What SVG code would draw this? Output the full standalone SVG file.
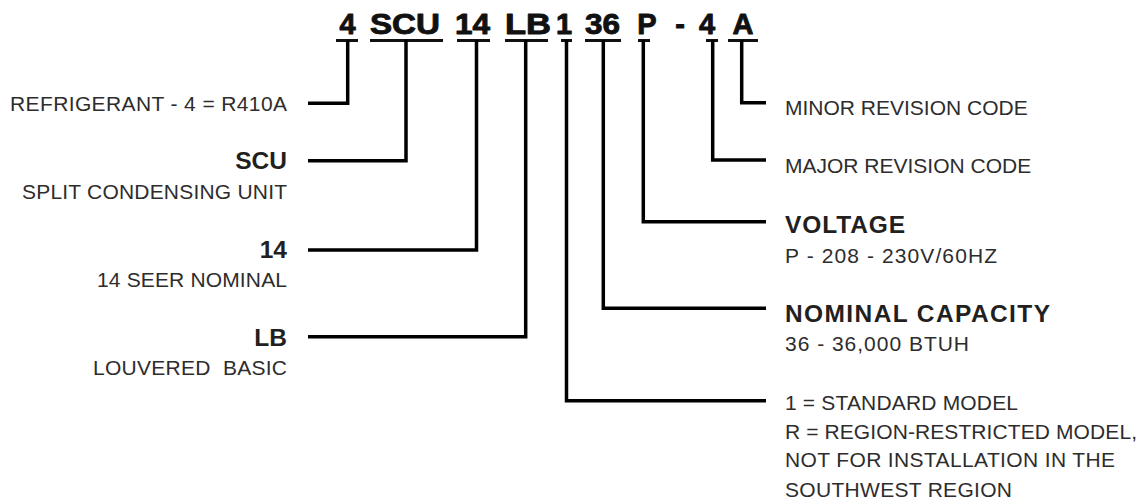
<svg xmlns="http://www.w3.org/2000/svg" width="1144" height="501" viewBox="0 0 1144 501">
<style>
  .title { font-family: "Liberation Sans", Arial, sans-serif; font-weight: bold; font-size: 29px; fill: #111; stroke: #111; stroke-width: 0.9; stroke-linejoin: round; }
  .mid { text-anchor: middle; }
  .ul { fill: #111; }
  .hd { font-family: "Liberation Sans", Arial, sans-serif; font-weight: bold; font-size: 24.5px; fill: #231f20; }
  .tx { font-family: "Liberation Sans", Arial, sans-serif; font-size: 21px; fill: #2e2c2d; }
  .end { text-anchor: end; }
  .conn { fill: none; stroke: #000; stroke-width: 3.5; stroke-linejoin: miter; stroke-linecap: butt; }
</style>
<rect width="1144" height="501" fill="#fff"/>

<g id="model-code">
  <text class="title mid" x="347.5" y="34">4</text>
  <text class="title" x="370" y="34" textLength="70" lengthAdjust="spacingAndGlyphs">SCU</text>
  <text class="title" x="455" y="34" textLength="35" lengthAdjust="spacingAndGlyphs">14</text>
  <text class="title" x="505" y="34" textLength="46" lengthAdjust="spacingAndGlyphs">LB</text>
  <text class="title mid" x="564" y="34">1</text>
  <text class="title" x="585" y="34" textLength="35" lengthAdjust="spacingAndGlyphs">36</text>
  <text class="title mid" x="647" y="34">P</text>
  <text class="title mid" x="680" y="34">-</text>
  <text class="title mid" x="707" y="34">4</text>
  <text class="title mid" x="743" y="34">A</text>
  <rect class="ul" x="336" y="39" width="22" height="3"/>
  <rect class="ul" x="370" y="39" width="73" height="3"/>
  <rect class="ul" x="457" y="39" width="33" height="3"/>
  <rect class="ul" x="505" y="39" width="43" height="3"/>
  <rect class="ul" x="561" y="39" width="11" height="3"/>
  <rect class="ul" x="585" y="39" width="36" height="3"/>
  <rect class="ul" x="638" y="39" width="12" height="3"/>
  <rect class="ul" x="706" y="39" width="12" height="3"/>
  <rect class="ul" x="728" y="39" width="30" height="3"/>
</g>

<g id="connectors">
  <path class="conn" d="M347.7,40 V103.3 H308"/>
  <path class="conn" d="M406,40 V160.7 H308"/>
  <path class="conn" d="M476.5,40 V250 H308"/>
  <path class="conn" d="M525.7,40 V336.7 H308"/>
  <path class="conn" d="M566.5,40 V400.7 H766"/>
  <path class="conn" d="M603.3,40 V308.3 H766"/>
  <path class="conn" d="M643.3,40 V221.7 H766"/>
  <path class="conn" d="M712.7,40 V160 H766"/>
  <path class="conn" d="M741.7,40 V102.7 H766"/>
</g>

<g id="refrigerant">
  <text class="tx end" x="287" y="111" textLength="277" lengthAdjust="spacing">REFRIGERANT - 4 = R410A</text>
</g>
<g id="scu">
  <text class="hd end" x="287" y="169.3">SCU</text>
  <text class="tx end" x="287" y="199" textLength="265" lengthAdjust="spacing">SPLIT CONDENSING UNIT</text>
</g>
<g id="seer">
  <text class="hd end" x="287" y="257.7">14</text>
  <text class="tx end" x="287" y="287.3" textLength="190" lengthAdjust="spacing">14 SEER NOMINAL</text>
</g>
<g id="louvered">
  <text class="hd end" x="287" y="346">LB</text>
  <text class="tx end" x="287" y="375" textLength="194" lengthAdjust="spacing" xml:space="preserve">LOUVERED  BASIC</text>
</g>

<g id="minor-revision">
  <text class="tx" x="785" y="115">MINOR REVISION CODE</text>
</g>
<g id="major-revision">
  <text class="tx" x="785" y="172.5">MAJOR REVISION CODE</text>
</g>
<g id="voltage">
  <text class="hd" x="785" y="233.3" textLength="120" lengthAdjust="spacing">VOLTAGE</text>
  <text class="tx" x="785" y="262.7" textLength="212" lengthAdjust="spacing">P - 208 - 230V/60HZ</text>
</g>
<g id="capacity">
  <text class="hd" x="785" y="321.7" textLength="265" lengthAdjust="spacing">NOMINAL CAPACITY</text>
  <text class="tx" x="785" y="350.5" textLength="184" lengthAdjust="spacing">36 - 36,000 BTUH</text>
</g>
<g id="model-type">
  <text class="tx" x="785" y="410" textLength="233" lengthAdjust="spacing">1 = STANDARD MODEL</text>
  <text class="tx" x="785" y="438.5" textLength="352" lengthAdjust="spacing">R = REGION-RESTRICTED MODEL,</text>
  <text class="tx" x="785" y="467.3" textLength="330" lengthAdjust="spacing">NOT FOR INSTALLATION IN THE</text>
  <text class="tx" x="785" y="496.5" textLength="227" lengthAdjust="spacing">SOUTHWEST REGION</text>
</g>
</svg>
